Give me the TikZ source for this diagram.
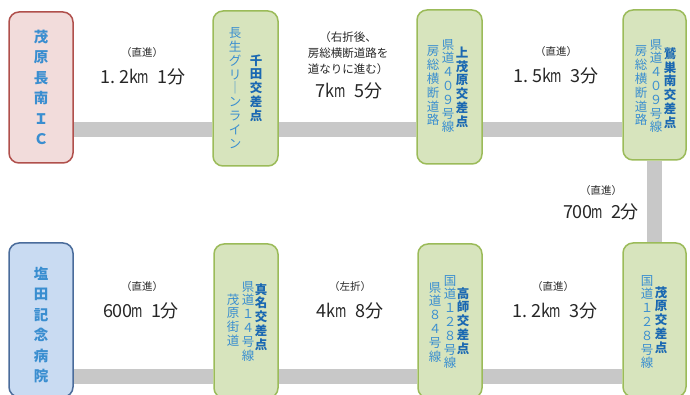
\documentclass[tikz,border=0pt]{standalone}
\usepackage{fontspec}
\usepackage{graphicx}
\setmainfont{Noto Sans CJK JP}
\newfontfamily\cjk{Noto Sans CJK JP}
\usetikzlibrary{backgrounds}
\definecolor{roadgray}{HTML}{C8C8C8}
\definecolor{pinkfill}{HTML}{F2DCDB}
\definecolor{pinkline}{HTML}{B0504C}
\definecolor{greenfill}{HTML}{D7E4BD}
\definecolor{greenline}{HTML}{9BBB59}
\definecolor{bluefill}{HTML}{C9DBF2}
\definecolor{blueline}{HTML}{4A6C9B}
\definecolor{txtblue}{HTML}{3A8ED0}
\definecolor{txtbold}{HTML}{1A68B2}
\definecolor{txtdark}{HTML}{262626}
\newcommand\hc[1]{\makebox[9.6pt][c]{#1}}
\newcommand\hd{\makebox[9.6pt][l]{\hspace{1pt}.}}
\newcommand\hm{\makebox[9.6pt][c]{\scalebox{0.68}[1]{m}}}
\newcommand\hk{\makebox[9.6pt][c]{\scalebox{0.9}[1]{k}}}
\tikzset{
  box/.style={draw, line width=1.5pt, rounded corners=10pt, inner sep=0pt,
    minimum width=64pt, minimum height=153pt, align=center},
  pinkbox/.style={box, fill=pinkfill, draw=pinkline},
  greenbox/.style={box, fill=greenfill, draw=greenline},
  bluebox/.style={box, fill=bluefill, draw=blueline},
  bigcol/.style={align=center, inner sep=0pt, text=txtblue,
    font=\cjk\bfseries\fontsize{14.5}{20.5}\selectfont},
  vcol/.style={align=center, inner sep=0pt, text=txtblue,
    font=\cjk\fontsize{12.5}{13.8}\selectfont},
  vbold/.style={vcol, text=txtbold, font=\cjk\bfseries\fontsize{12.5}{13.8}\selectfont},
  road/.style={line width=15pt, draw=roadgray},
  small/.style={inner sep=0pt, text=txtdark, font=\cjk\fontsize{10.5}{12}\selectfont},
  mid/.style={inner sep=0pt, text=txtdark, align=center, font=\cjk\fontsize{11.5}{16}\selectfont},
  big/.style={inner sep=0pt, text=txtdark, font=\cjk\fontsize{18}{20}\selectfont},
}
\begin{document}
\begin{tikzpicture}[x=1pt,y=-1pt]
\useasboundingbox (0,0) rectangle (690,395);
\coordinate (topRoad) at (0,129.5);
\coordinate (botRoad) at (0,376);

% top row boxes
\node[pinkbox, minimum height=151pt] (b1) at (41,87.5) {};
\node[bigcol] (t1) at (b1) {茂\\原\\長\\南\\Ｉ\\Ｃ};

\node[greenbox, minimum width=65pt, minimum height=155pt] (b2) at (245.5,88.5) {};
\node[vcol] (t2a) at (235,88) {長\\生\\グ\\リ\\｜\\ン\\ラ\\イ\\ン};
\node[vbold] (t2b) at (256,88) {千\\田\\交\\差\\点};

\node[greenbox, minimum width=65pt, minimum height=154pt] (b3) at (449.5,87) {};
\node[vcol] (t3a) at (433,86) {房\\総\\横\\断\\道\\路};
\node[vcol] (t3b) at (448,86) {県\\道\\４\\０\\９\\号\\線};
\node[vbold] (t3c) at (462,87) {上\\茂\\原\\交\\差\\点};

\node[greenbox, minimum width=63pt, minimum height=150pt] (b4) at (654.5,85) {};
\node[vcol] (t4a) at (641,86) {房\\総\\横\\断\\道\\路};
\node[vcol] (t4b) at (656,86) {県\\道\\４\\０\\９\\号\\線};
\node[vbold] (t4c) at (670,88) {鷲\\巣\\南\\交\\差\\点};

% bottom row boxes
\node[bluebox, minimum height=154pt] (b5) at (41,320) {};
\node[bigcol] (t5) at (41,325) {塩\\田\\記\\念\\病\\院};

\node[greenbox, minimum width=64pt, minimum height=154pt] (b6) at (246,321) {};
\node[vcol] (t6a) at (233,320) {茂\\原\\街\\道};
\node[vcol] (t6b) at (248,321) {県\\道\\１\\４\\号\\線};
\node[vbold] (t6c) at (261,317) {真\\名\\交\\差\\点};

\node[greenbox, minimum width=64pt, minimum height=154pt] (b7) at (450,321) {};
\node[vcol] (t7a) at (435,322) {県\\道\\８\\４\\号\\線};
\node[vcol] (t7b) at (450,322) {国\\道\\１\\２\\８\\号\\線};
\node[vbold] (t7c) at (463,321) {高\\師\\交\\差\\点};

\node[greenbox, minimum width=63pt, minimum height=154pt] (b8) at (654.5,320) {};
\node[vcol] (t8a) at (647,322) {国\\道\\１\\２\\８\\号\\線};
\node[vbold] (t8b) at (661,320) {茂\\原\\交\\差\\点};

% roads
\begin{scope}[on background layer]
\draw[road] (b1.east |- topRoad) -- (b2.west |- topRoad);
\draw[road] (b2.east |- topRoad) -- (b3.west |- topRoad);
\draw[road] (b3.east |- topRoad) -- (b4.west |- topRoad);
\draw[road] (b4.south) -- (b8.north);
\draw[road] (b5.east |- botRoad) -- (b6.west |- botRoad);
\draw[road] (b6.east |- botRoad) -- (b7.west |- botRoad);
\draw[road] (b7.east |- botRoad) -- (b8.west |- botRoad);
\end{scope}

% labels
\node[small] (l1a) at (142,53) {（直進）};
\node[big] (l1b) at (143,77) {\hc{1}\hd\hc{2}\hk\hm\hc{}\hc{1}分};
\node[mid] (l2a) at (348,53) {（右折後、\\房総横断道路を\\道なりに進む）};
\node[big] (l2b) at (349,91) {\hc{7}\hk\hm\hc{}\hc{5}分};
\node[small] (l3a) at (556,52) {（直進）};
\node[big] (l3b) at (556,76) {\hc{1}\hd\hc{5}\hk\hm\hc{}\hc{3}分};
\node[small] (l4a) at (601,191) {（直進）};
\node[big] (l4b) at (601,212) {\hc{7}\hc{0}\hc{0}\hm\hc{}\hc{2}分};
\node[small] (l5a) at (142,287) {（直進）};
\node[big] (l5b) at (141,311) {\hc{6}\hc{0}\hc{0}\hm\hc{}\hc{1}分};
\node[small] (l6a) at (350,287) {（左折）};
\node[big] (l6b) at (350,311) {\hc{4}\hk\hm\hc{}\hc{8}分};
\node[small] (l7a) at (553,287) {（直進）};
\node[big] (l7b) at (555,311) {\hc{1}\hd\hc{2}\hk\hm\hc{}\hc{3}分};
\end{tikzpicture}
\end{document}
